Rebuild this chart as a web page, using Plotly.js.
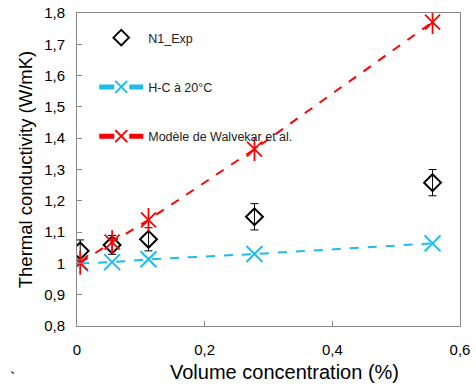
<!DOCTYPE html>
<html>
<head>
<meta charset="utf-8">
<script src="https://cdn.plot.ly/plotly-3.0.1.min.js"></script>
<style>html,body{margin:0;padding:0;background:#fff;}#chart{width:476px;height:386px;}</style>
</head>
<body>
<div id="chart"></div>
<script>
var xExp = [0.005, 0.055, 0.112, 0.278, 0.557];
var yExp = [1.040, 1.059, 1.077, 1.149, 1.258];
var errExp = [0.035, 0.030, 0.037, 0.042, 0.042];
var xHC = [0.005, 0.055, 0.112, 0.278, 0.557];
var yHC = [1.000, 1.004, 1.013, 1.030, 1.064];
var xWal = [0.005, 0.055, 0.112, 0.278, 0.557];
var yWal = [1.002, 1.068, 1.139, 1.365, 1.771];
var names = ['N1_Exp', 'H-C à 20°C', 'Modèle de Walvekar et al.'];
var xTitle = 'Volume concentration (%)';
var yTitle = 'Thermal conductivity (W/mK)';
var xTicks = [0, 0.2, 0.4, 0.6];
var yTicks = [0.8, 0.9, 1, 1.1, 1.2, 1.3, 1.4, 1.5, 1.6, 1.7, 1.8];

var blue = '#1EBBEE', red = '#FF0000';
var traces = [
  {x: xExp, y: yExp, name: names[0], mode: 'markers', type: 'scatter', legendgroup: 'a',
   marker: {symbol: 'diamond-open', size: 13, color: '#000', line: {width: 2, color: '#000'}},
   error_y: {type: 'data', array: errExp, visible: true, color: '#000', thickness: 1, width: 4}},
  {x: xHC, y: yHC, name: names[1], mode: 'lines+markers', type: 'scatter', legendgroup: 'b',
   line: {color: blue, width: 2, dash: 'dash'},
   marker: {symbol: 'x-thin-open', size: 16, color: blue, line: {width: 2, color: blue}}},
  {x: xWal, y: yWal, name: names[2], mode: 'lines+markers', type: 'scatter', legendgroup: 'c',
   line: {color: red, width: 2, dash: 'dash'},
   marker: {symbol: 'x-thin-open', size: 15, color: red, line: {width: 1.8, color: red}}},
  {x: xWal, y: yWal, name: names[2], mode: 'markers', type: 'scatter', legendgroup: 'c', showlegend: false,
   marker: {symbol: 'line-ns-open', size: 17, color: red, line: {width: 1.8, color: red}}}
];

var layout = {
  width: 476, height: 386,
  margin: {l: 77, r: 16, t: 13, b: 60},
  paper_bgcolor: '#fff', plot_bgcolor: '#fff',
  separators: ',.',
  font: {family: 'Liberation Sans, Arial, sans-serif', color: '#000', size: 13},
  showlegend: true,
  legend: {x: 0.045, y: 0.968, xanchor: 'left', yanchor: 'top', bgcolor: 'rgba(0,0,0,0)',
           font: {size: 12.5, color: '#222'}, traceorder: 'grouped', tracegroupgap: 30,
           itemsizing: 'constant', itemwidth: 44},
  xaxis: {range: [0, 0.6], tickvals: xTicks, showgrid: false, zeroline: false,
          showline: true, linecolor: '#888', linewidth: 1, mirror: true,
          ticks: 'inside', ticklen: 5, tickcolor: '#888', ticklabelstandoff: 10,
          tickfont: {size: 15}},
  yaxis: {range: [0.8, 1.8], tickvals: yTicks, showgrid: false, zeroline: false,
          showline: true, linecolor: '#888', linewidth: 1, mirror: true,
          ticks: 'inside', ticklen: 5, tickcolor: '#888', ticklabelstandoff: 8,
          title: {text: yTitle, font: {size: 18.5}, standoff: 6},
          tickfont: {size: 15}},
  annotations: [
    {text: xTitle, xref: 'paper', yref: 'paper', x: 0.542, y: -0.147, yanchor: 'middle',
     showarrow: false, font: {size: 20, color: '#000'}},
    {text: '`', xref: 'paper', yref: 'paper', x: -0.18, y: -0.2, showarrow: false,
     font: {size: 16, color: '#000'}}]
};

Plotly.newPlot('chart', traces, layout, {displayModeBar: false, staticPlot: true});
</script>
</body>
</html>
